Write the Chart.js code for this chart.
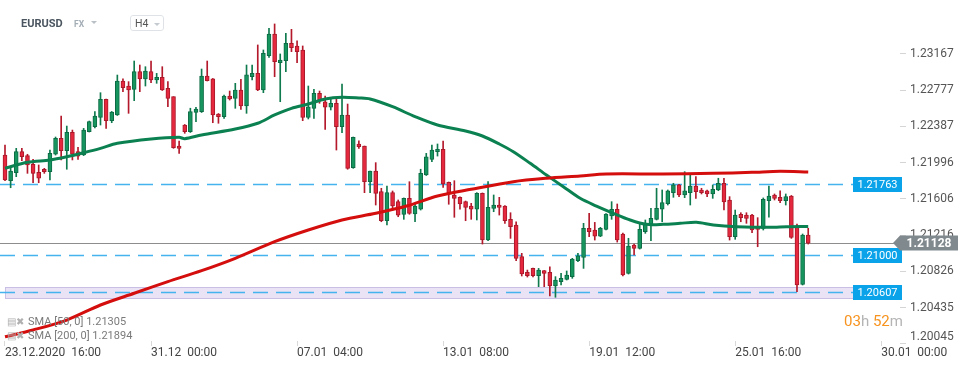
<!DOCTYPE html>
<html lang="en">
<head>
<meta charset="UTF-8">
<title>EURUSD H4</title>
<script src="https://cdn.jsdelivr.net/npm/chart.js"></script>
<style>
    body { margin: 0; background: #fff; font-family: 'Roboto', 'Noto Sans', sans-serif; }
    #wrap { position: relative; width: 970px; height: 368px; overflow: hidden; }
    #wrap canvas { position: absolute; left: 0; top: 0; }
    .abs { position: absolute; white-space: pre; line-height: 1; }
    .sym { left: 21px; top: 18px; font-size: 11px; font-weight: 700; color: #4b5560; }
    .fx { left: 74px; top: 20px; font-size: 8.5px; font-weight: 700; color: #a3adb5; }
    .tri { width: 0; height: 0; border-left: 3.5px solid transparent; border-right: 3.5px solid transparent; border-top: 3px solid #b9c0c6; }
    .tf { left: 130px; top: 15px; width: 34px; height: 16px; border: 1px solid #dfe3e7; border-radius: 3px; box-sizing: border-box; }
    .tf span { position: absolute; left: 4px; top: 3px; font-size: 10.5px; color: #555; line-height: 1; }
    .legend { left: 7px; font-size: 11px; color: #7a7a7a; }
    .legend i { font-style: normal; color: #b0b0b0; font-size: 10px; margin-right: 4px; }
    .timer { left: 844px; top: 314px; font-size: 15px; }
    .timer b { font-weight: 400; color: #f7931e; }
    .timer s { text-decoration: none; color: #b4b4b4; }
</style>
</head>
<body>
<div id="wrap">
    <canvas id="grafica" width="970" height="368"></canvas>
    <div class="abs sym">EURUSD</div>
    <div class="abs fx">FX</div>
    <div class="abs tri" style="left:91px; top:21px;"></div>
    <div class="abs tf"><span>H4</span><div class="abs tri" style="left:23px; top:7px; border-top-color:#c4cacf;"></div></div>
    <div class="abs legend" style="top:316px;"><i>&#9636;&#10006;</i>SMA [50, 0] 1.21305</div>
    <div class="abs legend" style="top:330px;"><i>&#9636;&#10006;</i>SMA [200, 0] 1.21894</div>
    <div class="abs timer"><b>03</b><s>h</s> <b>52</b><s>m</s></div>
</div>

<script>
    // velas H4 EURUSD, una por posicion 0..143
    const open = [
        1.22078, 1.21801, 1.21888, 1.22114, 1.22071, 1.21979, 1.21892, 1.21925, 1.21899, 1.22086,
        1.22258, 1.22125, 1.22322, 1.22114, 1.22078, 1.22329, 1.22383, 1.22484, 1.22678, 1.22448,
        1.22509, 1.22875, 1.22821, 1.22785, 1.22975, 1.22897, 1.22975, 1.22886, 1.22915, 1.22796,
        1.22706, 1.22175, 1.22401, 1.22329, 1.22538, 1.22545, 1.22929, 1.22897, 1.22520, 1.22491,
        1.22713, 1.22688, 1.22778, 1.22606, 1.22922, 1.22958, 1.22778, 1.23148, 1.23381, 1.23072,
        1.23094, 1.23280, 1.23252, 1.23209, 1.22484, 1.22581, 1.22743, 1.22652, 1.22592, 1.22635,
        1.22383, 1.22509, 1.21942, 1.22197, 1.22175, 1.21791, 1.21906, 1.21684, 1.21371, 1.21673,
        1.21576, 1.21440, 1.21612, 1.21443, 1.21494, 1.21863, 1.22032, 1.22114, 1.22139, 1.21784,
        1.21648, 1.21623, 1.21576, 1.21529, 1.21494, 1.21666, 1.21163, 1.21504, 1.21540, 1.21529,
        1.21386, 1.21325, 1.20984, 1.20816, 1.20858, 1.20779, 1.20833, 1.20816, 1.20668, 1.20715,
        1.20740, 1.20769, 1.20941, 1.20977, 1.21289, 1.21271, 1.21206, 1.21278, 1.21422, 1.21494,
        1.21228, 1.20805, 1.21109, 1.21074, 1.21253, 1.21314, 1.21386, 1.21494, 1.21555, 1.21673,
        1.21756, 1.21648, 1.21673, 1.21745, 1.21702, 1.21694, 1.21659, 1.21702, 1.21774, 1.21594,
        1.21199, 1.21440, 1.21432, 1.21432, 1.21300, 1.21289, 1.21587, 1.21648, 1.21623, 1.21587,
        1.21637, 1.21314, 1.20686, 1.21217
    ];
    const high = [
        1.22186, 1.21953, 1.22150, 1.22150, 1.22086, 1.22032, 1.21971, 1.21935, 1.22132, 1.22272,
        1.22498, 1.22390, 1.22347, 1.22161, 1.22365, 1.22444, 1.22545, 1.22749, 1.22681, 1.22547,
        1.22939, 1.22897, 1.22868, 1.23090, 1.23047, 1.23029, 1.23090, 1.22957, 1.23029, 1.22868,
        1.22706, 1.22229, 1.22407, 1.22582, 1.22592, 1.23004, 1.23090, 1.22902, 1.22525, 1.22724,
        1.22767, 1.22850, 1.22893, 1.23047, 1.23047, 1.23263, 1.23209, 1.23442, 1.23489, 1.23166,
        1.23388, 1.23431, 1.23306, 1.23252, 1.22821, 1.22786, 1.22767, 1.22713, 1.22678, 1.22678,
        1.22843, 1.22627, 1.22272, 1.22232, 1.22175, 1.21906, 1.21996, 1.21720, 1.21745, 1.21691,
        1.21594, 1.21616, 1.21791, 1.21558, 1.21925, 1.22096, 1.22186, 1.22197, 1.22229, 1.21788,
        1.21802, 1.21627, 1.21583, 1.21558, 1.21673, 1.21670, 1.21791, 1.21648, 1.21623, 1.21535,
        1.21457, 1.21360, 1.21020, 1.20840, 1.20862, 1.20858, 1.20835, 1.20876, 1.20769, 1.20805,
        1.20830, 1.20966, 1.21020, 1.21343, 1.21450, 1.21353, 1.21300, 1.21448, 1.21576, 1.21551,
        1.21238, 1.21182, 1.21120, 1.21336, 1.21379, 1.21505, 1.21720, 1.21702, 1.21702, 1.21774,
        1.21763, 1.21899, 1.21863, 1.21845, 1.21720, 1.21702, 1.21756, 1.21828, 1.21828, 1.21630,
        1.21486, 1.21457, 1.21457, 1.21440, 1.21404, 1.21616, 1.21745, 1.21659, 1.21694, 1.21659,
        1.21643, 1.21336, 1.21228, 1.21289
    ];
    const low = [
        1.21801, 1.21726, 1.21845, 1.22017, 1.21881, 1.21780, 1.21780, 1.21881, 1.21809, 1.22078,
        1.22025, 1.21925, 1.22025, 1.22032, 1.22072, 1.22326, 1.22369, 1.22401, 1.22365, 1.22426,
        1.22504, 1.22760, 1.22527, 1.22663, 1.22760, 1.22821, 1.22857, 1.22850, 1.22773, 1.22598,
        1.22150, 1.22096, 1.22312, 1.22321, 1.22437, 1.22536, 1.22875, 1.22426, 1.22420, 1.22473,
        1.22670, 1.22581, 1.22570, 1.22527, 1.22886, 1.22771, 1.22749, 1.23130, 1.22921, 1.22652,
        1.22975, 1.23191, 1.23072, 1.22448, 1.22466, 1.22473, 1.22635, 1.22355, 1.22563, 1.22132,
        1.22318, 1.21925, 1.21935, 1.22150, 1.21673, 1.21673, 1.21540, 1.21360, 1.21325, 1.21486,
        1.21414, 1.21386, 1.21440, 1.21360, 1.21486, 1.21858, 1.22007, 1.22067, 1.21730, 1.21548,
        1.21408, 1.21494, 1.21371, 1.21386, 1.21379, 1.21120, 1.21156, 1.21468, 1.21432, 1.21343,
        1.21181, 1.20941, 1.20776, 1.20765, 1.20765, 1.20661, 1.20661, 1.20561, 1.20547, 1.20679,
        1.20733, 1.20751, 1.20930, 1.20858, 1.21199, 1.21163, 1.21199, 1.21271, 1.21386, 1.21141,
        1.20776, 1.20797, 1.21002, 1.21066, 1.21235, 1.21156, 1.21379, 1.21360, 1.21540, 1.21623,
        1.21630, 1.21619, 1.21540, 1.21612, 1.21659, 1.21630, 1.21612, 1.21694, 1.21486, 1.21163,
        1.21171, 1.21360, 1.21343, 1.21242, 1.21091, 1.21271, 1.21408, 1.21594, 1.21565, 1.21540,
        1.21181, 1.20607, 1.20679, 1.21120
    ];
    const close = [
        1.21809, 1.21906, 1.22114, 1.22060, 1.21971, 1.21881, 1.21828, 1.21899, 1.22096, 1.22258,
        1.22125, 1.22322, 1.22086, 1.22067, 1.22347, 1.22437, 1.22498, 1.22678, 1.22448, 1.22541,
        1.22875, 1.22803, 1.22778, 1.22975, 1.22897, 1.22982, 1.22886, 1.22915, 1.22778, 1.22688,
        1.22157, 1.22150, 1.22329, 1.22545, 1.22574, 1.22929, 1.22878, 1.22509, 1.22491, 1.22713,
        1.22681, 1.22778, 1.22606, 1.22940, 1.22958, 1.22778, 1.23173, 1.23381, 1.23083, 1.23101,
        1.23280, 1.23233, 1.23191, 1.22484, 1.22598, 1.22743, 1.22670, 1.22592, 1.22635, 1.22383,
        1.22509, 1.21935, 1.22269, 1.22168, 1.21791, 1.21906, 1.21666, 1.21371, 1.21673, 1.21529,
        1.21432, 1.21612, 1.21450, 1.21529, 1.21881, 1.22060, 1.22132, 1.22139, 1.21766, 1.21673,
        1.21612, 1.21551, 1.21515, 1.21494, 1.21666, 1.21163, 1.21515, 1.21540, 1.21515, 1.21371,
        1.21307, 1.20966, 1.20797, 1.20779, 1.20779, 1.20840, 1.20805, 1.20668, 1.20733, 1.20751,
        1.20787, 1.20959, 1.20992, 1.21289, 1.21253, 1.21206, 1.21289, 1.21443, 1.21494, 1.21163,
        1.20787, 1.21099, 1.21074, 1.21278, 1.21336, 1.21397, 1.21505, 1.21565, 1.21694, 1.21756,
        1.21648, 1.21694, 1.21745, 1.21684, 1.21673, 1.21659, 1.21709, 1.21774, 1.21573, 1.21199,
        1.21432, 1.21404, 1.21397, 1.21271, 1.21278, 1.21601, 1.21637, 1.21612, 1.21587, 1.21630,
        1.21192, 1.20679, 1.21217, 1.21128
    ];

    // medias moviles (posicion de vela, precio)
    const sma50X = [0, 4, 8, 11, 14, 17, 20, 26, 31, 32, 35, 41, 45, 48, 51, 54, 57, 60, 63, 65, 69, 73, 77, 82, 85, 88, 90.5, 93.5, 96.4, 99.4, 102.4, 105.3, 108.3, 111.3, 114.2, 117.2, 120.2, 123.1, 126.1, 130.3, 136.2, 139.2, 143];
    const sma50 = [1.21935, 1.22000, 1.22025, 1.22060, 1.22103, 1.22150, 1.22204, 1.22251, 1.22269, 1.22254, 1.22294, 1.22358, 1.22420, 1.22509, 1.22581, 1.22627, 1.22681, 1.22700, 1.22692, 1.22681, 1.22598, 1.22491, 1.22401, 1.22337, 1.22283, 1.22197, 1.22114, 1.21989, 1.21863, 1.21737, 1.21612, 1.21529, 1.21451, 1.21379, 1.21332, 1.21332, 1.21343, 1.21354, 1.21325, 1.21307, 1.21300, 1.21307, 1.21310];
    const sma200X = [0, 5, 11, 17, 23, 29, 35, 41, 48, 54, 60, 66, 71.5, 77, 83, 90.5, 96.4, 102.4, 107, 117, 126, 133, 138, 143];
    const sma200 = [1.20122, 1.20195, 1.20302, 1.20464, 1.20590, 1.20715, 1.20833, 1.20966, 1.21145, 1.21271, 1.21379, 1.21451, 1.21529, 1.21637, 1.21709, 1.21791, 1.21828, 1.21853, 1.21874, 1.21874, 1.21881, 1.21892, 1.21903, 1.21895];

    // niveles horizontales
    const levels = [1.21763, 1.21000, 1.20607];
    const supportBand = [1.20536, 1.20654];
    const lastPrice = 1.21128;

    // ejes
    const yTicks = [1.20045, 1.20435, 1.20826, 1.21216, 1.21606, 1.21996, 1.22387, 1.22777, 1.23167];
    const xTickPos = [0, 26, 52, 78, 104, 130, 156];
    const xTickLabels = ['23.12.2020  16:00', '31.12  00:00', '07.01  04:00', '13.01  08:00', '19.01  12:00', '25.01  16:00', '30.01  00:00'];

    const idx = open.map((_, i) => i);
    const isUp = i => close[i] >= open[i];

    const capas = {
        id: 'capas',
        beforeDatasetsDraw(chart) {
            const { ctx, chartArea, scales: { y } } = chart;
            const tagLeft = chartArea.right - 47;
            ctx.save();
            // zona de soporte
            const bTop = Math.round(y.getPixelForValue(supportBand[1]));
            const bBot = Math.round(y.getPixelForValue(supportBand[0]));
            ctx.fillStyle = '#e9e3f5';
            ctx.fillRect(5, bTop, tagLeft - 5, bBot - bTop);
            ctx.strokeStyle = '#c9bee4';
            ctx.lineWidth = 1;
            ctx.strokeRect(5.5, bTop + 0.5, tagLeft - 5, bBot - bTop);
            // lineas discontinuas
            ctx.setLineDash([15, 8]);
            ctx.strokeStyle = '#45b4ee';
            ctx.lineWidth = 1.3;
            levels.forEach(v => {
                const py = Math.round(y.getPixelForValue(v)) + 0.5;
                ctx.beginPath();
                ctx.moveTo(0, py);
                ctx.lineTo(tagLeft, py);
                ctx.stroke();
            });
            // precio actual
            ctx.setLineDash([]);
            ctx.strokeStyle = '#8d8d8d';
            ctx.lineWidth = 1;
            const cp = Math.round(y.getPixelForValue(lastPrice)) + 0.5;
            ctx.beginPath();
            ctx.moveTo(0, cp);
            ctx.lineTo(chartArea.right - 6, cp);
            ctx.stroke();
            ctx.restore();
        },
        afterDraw(chart) {
            const { ctx, chartArea, scales: { y } } = chart;
            const tagLeft = chartArea.right - 47;
            ctx.save();
            ctx.textAlign = 'center';
            ctx.textBaseline = 'middle';
            levels.forEach(v => {
                const py = Math.round(y.getPixelForValue(v));
                ctx.fillStyle = '#0aa3ea';
                ctx.fillRect(tagLeft, py - 7, 49, 15);
                ctx.fillStyle = '#ffffff';
                ctx.font = '11px Roboto';
                ctx.fillText(v.toFixed(5), tagLeft + 24.5, py + 1);
            });
            const cp = Math.round(y.getPixelForValue(lastPrice));
            const l = chartArea.right;
            ctx.fillStyle = '#80898e';
            ctx.beginPath();
            ctx.moveTo(l - 7, cp);
            ctx.lineTo(l, cp - 7.5);
            ctx.lineTo(l + 58, cp - 7.5);
            ctx.lineTo(l + 58, cp + 7.5);
            ctx.lineTo(l, cp + 7.5);
            ctx.closePath();
            ctx.fill();
            ctx.fillStyle = '#ffffff';
            ctx.font = 'bold 12px Roboto';
            ctx.fillText(lastPrice.toFixed(5), l + 29, cp + 1);
            ctx.restore();
        }
    };

    const ctx = document.getElementById('grafica').getContext('2d');
    new Chart(ctx, {
        type: 'bar',
        data: {
            datasets: [
                {
                    type: 'line',
                    label: 'SMA 200',
                    data: sma200X.map((x, k) => ({ x: x, y: sma200[k] })),
                    borderColor: '#d40d0d',
                    borderWidth: 3,
                    pointRadius: 0,
                    tension: 0.3,
                    order: 0
                },
                {
                    type: 'line',
                    label: 'SMA 50',
                    data: sma50X.map((x, k) => ({ x: x, y: sma50[k] })),
                    borderColor: '#0b8050',
                    borderWidth: 3,
                    pointRadius: 0,
                    tension: 0.3,
                    order: 1
                },
                {
                    label: 'cuerpo',
                    data: idx.map(i => ({ x: i, y: [open[i], close[i]] })),
                    backgroundColor: c => isUp(c.dataIndex) ? '#16955f' : '#e5283d',
                    borderColor: c => isUp(c.dataIndex) ? '#0c6b44' : '#a8192a',
                    borderWidth: 1,
                    borderSkipped: false,
                    barThickness: 4,
                    minBarLength: 2,
                    grouped: false,
                    order: 2
                },
                {
                    label: 'mecha',
                    data: idx.map(i => ({ x: i, y: [low[i], high[i]] })),
                    backgroundColor: c => isUp(c.dataIndex) ? '#0e7a4d' : '#b3192b',
                    barThickness: 1,
                    grouped: false,
                    order: 3
                }
            ]
        },
        options: {
            responsive: false,
            animation: false,
            layout: { padding: 0 },
            plugins: { legend: { display: false }, tooltip: { enabled: false } },
            scales: {
                x: {
                    type: 'linear',
                    offset: false,
                    min: -0.89,
                    max: 159.34,
                    afterFit: s => { s.height = 27; s.paddingLeft = 0; s.paddingRight = 0; },
                    afterBuildTicks: s => { s.ticks = xTickPos.map(v => ({ value: v })); },
                    grid: { display: true, offset: false, drawOnChartArea: false, drawTicks: true, tickLength: 5, color: '#d9d9d9' },
                    border: { display: false },
                    ticks: {
                        align: 'start',
                        maxRotation: 0,
                        autoSkip: false,
                        padding: 0,
                        color: '#444',
                        font: { family: 'Roboto', size: 12 },
                        callback: v => xTickLabels[xTickPos.indexOf(v)]
                    }
                },
                y: {
                    position: 'right',
                    min: 1.200763,
                    max: 1.237468,
                    afterFit: s => { s.width = 70; s.paddingTop = 0; s.paddingBottom = 0; },
                    afterBuildTicks: s => { s.ticks = yTicks.map(v => ({ value: v })); },
                    grid: { drawOnChartArea: false, drawTicks: true, tickLength: 6, color: '#d5d5d5' },
                    border: { display: false },
                    ticks: {
                        padding: 4,
                        color: '#555',
                        font: { family: 'Roboto', size: 12 },
                        // la etiqueta inferior se sube para no chocar con el eje x
                        callback: (v, i) => i === 0 ? [v.toFixed(5), ''] : v.toFixed(5)
                    }
                }
            }
        },
        plugins: [capas]
    });
</script>
</body>
</html>
